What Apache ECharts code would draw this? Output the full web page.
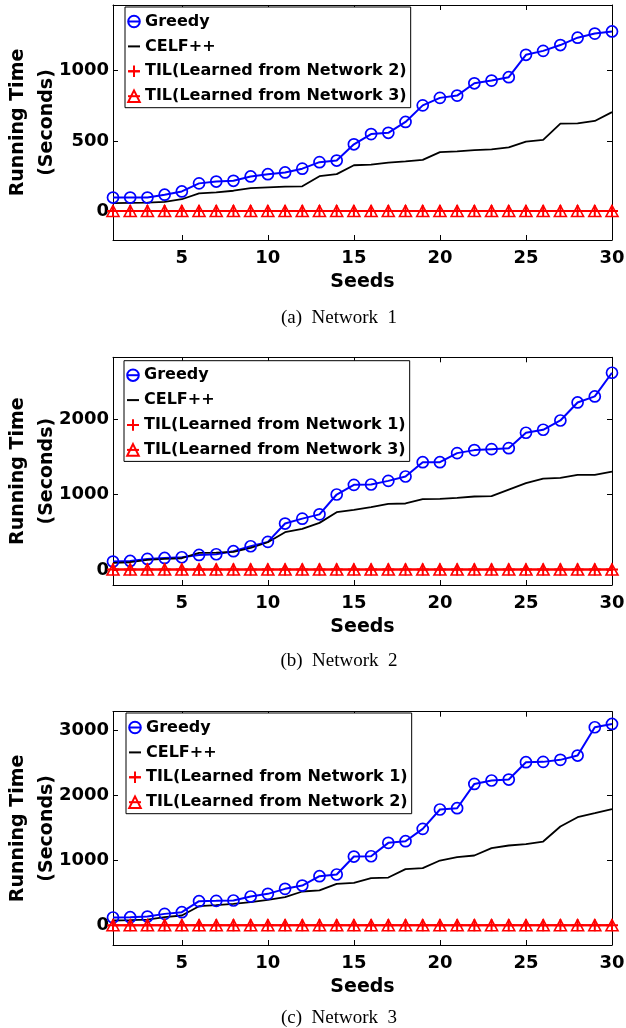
<!DOCTYPE html>
<html>
<head>
<meta charset="utf-8">
<script src="https://cdn.jsdelivr.net/npm/echarts@6/dist/echarts.min.js"></script>
<style>
  html, body { margin: 0; padding: 0; background: #fff; width: 626px; height: 1028px; overflow: hidden; }
  .panel { position: absolute; left: 0; width: 626px; }
</style>
</head>
<body>
<div id="p1" class="panel" style="top:0;height:340px"></div>
<div id="p2" class="panel" style="top:340px;height:350px"></div>
<div id="p3" class="panel" style="top:690px;height:338px"></div>
<script>
// Number of seeds on the horizontal axis
const seeds = [1, 2, 3, 4, 5, 6, 7, 8, 9, 10, 11, 12, 13, 14, 15, 16, 17, 18, 19, 20,
               21, 22, 23, 24, 25, 26, 27, 28, 29, 30];
const xTicks = [5, 10, 15, 20, 25, 30];

// Network 1 running times (seconds)
const greedyNet1 = [100, 100, 100, 120, 143, 200, 213, 218, 249, 265, 277, 304, 350, 361, 476,
                    548, 557, 634, 751, 804, 820, 907, 926, 950, 1108, 1136, 1177, 1229, 1258, 1273];
const celfNet1 = [60, 62, 64, 69, 88, 129, 136, 148, 167, 172, 177, 179, 251, 265, 328,
                  332, 347, 356, 366, 421, 426, 435, 440, 454, 495, 507, 622, 624, 641, 703];
const tilNet1From2 = [5, 5, 5, 5, 5, 5, 5, 5, 5, 5, 5, 5, 5, 5, 5, 5, 5, 5, 5, 5, 5, 5, 5, 5, 5, 5, 5, 5, 5, 5];
const tilNet1From3 = [5, 5, 5, 5, 5, 5, 5, 5, 5, 5, 5, 5, 5, 5, 5, 5, 5, 5, 5, 5, 5, 5, 5, 5, 5, 5, 5, 5, 5, 5];
const yTicksNet1 = [0, 500, 1000];

// Network 2 running times (seconds)
const greedyNet2 = [111, 119, 146, 159, 168, 199, 208, 248, 314, 372, 615, 680, 737, 1000, 1128,
                    1133, 1181, 1239, 1429, 1429, 1549, 1589, 1602, 1615, 1819, 1859, 1982, 2221, 2301, 2615];
const celfNet2 = [93, 102, 133, 146, 155, 226, 230, 239, 292, 367, 500, 544, 624, 766, 797,
                  832, 876, 881, 938, 943, 956, 974, 978, 1066, 1150, 1212, 1221, 1261, 1261, 1305];
const tilNet2From1 = [5, 5, 5, 5, 5, 5, 5, 5, 5, 5, 5, 5, 5, 5, 5, 5, 5, 5, 5, 5, 5, 5, 5, 5, 5, 5, 5, 5, 5, 5];
const tilNet2From3 = [5, 5, 5, 5, 5, 5, 5, 5, 5, 5, 5, 5, 5, 5, 5, 5, 5, 5, 5, 5, 5, 5, 5, 5, 5, 5, 5, 5, 5, 5];
const yTicksNet2 = [0, 1000, 2000];

// Network 3 running times (seconds)
const greedyNet3 = [123, 128, 138, 179, 205, 374, 379, 385, 446, 487, 564, 615, 759, 785, 1061,
                    1066, 1272, 1297, 1487, 1785, 1805, 2179, 2231, 2246, 2513, 2518, 2549, 2615, 3051, 3102];
const celfNet3 = [77, 82, 92, 128, 154, 297, 313, 333, 359, 395, 436, 523, 540, 641, 656,
                  728, 738, 867, 882, 1000, 1051, 1077, 1190, 1231, 1251, 1292, 1523, 1667, 1728, 1790];
const tilNet3From1 = [5, 5, 5, 5, 5, 5, 5, 5, 5, 5, 5, 5, 5, 5, 5, 5, 5, 5, 5, 5, 5, 5, 5, 5, 5, 5, 5, 5, 5, 5];
const tilNet3From2 = [5, 5, 5, 5, 5, 5, 5, 5, 5, 5, 5, 5, 5, 5, 5, 5, 5, 5, 5, 5, 5, 5, 5, 5, 5, 5, 5, 5, 5, 5];
const yTicksNet3 = [0, 1000, 2000, 3000];

const FONT = 'DejaVu Sans';
const BLUE = '#0000ff';
const RED = '#ff0000';
const PLUS = 'path://M0,5L10,5M5,0L5,10';
const CLEAR = 'rgba(0,0,0,0)';

function pairs(values) {
  return seeds.map((s, i) => [s, values[i]]);
}

function boldText(size, extra) {
  return Object.assign({ fontFamily: FONT, fontWeight: 'bold', fontSize: size, color: '#000' }, extra || {});
}

function plainNumber(v) {
  return String(v);
}

function buildOption(p) {
  const frameLine = { show: true, onZero: false, lineStyle: { color: '#000', width: 1 } };
  const xTick = { show: true, inside: true, length: 5, customValues: xTicks, lineStyle: { color: '#000', width: 1 } };
  const yTick = { show: true, inside: true, length: 5, customValues: p.yTicks, lineStyle: { color: '#000', width: 1 } };
  return {
    animation: false,
    grid: {
      left: 113, top: p.gridTop, width: 499, height: p.gridHeight,
      show: false, containLabel: false, outerBoundsMode: 'none'
    },
    legend: {
      orient: 'vertical',
      left: p.legendLeft,
      top: p.legendTop,
      padding: [6, 4, 3, 2],
      itemGap: 7.9,
      itemWidth: 12,
      itemHeight: 14.5,
      backgroundColor: '#fff',
      borderColor: '#000',
      borderWidth: 1,
      borderRadius: 0,
      selectedMode: false,
      textStyle: boldText(16, { lineHeight: 17 }),
      data: [
        { name: 'Greedy' },
        { name: 'CELF++', icon: 'path://M0,0H12V2H0Z' },
        { name: p.tilNames[0] },
        { name: p.tilNames[1] }
      ]
    },
    xAxis: [
      {
        type: 'value', min: 1, max: 30, position: 'bottom',
        name: 'Seeds', nameLocation: 'middle', nameGap: 33, nameMoveOverlap: false,
        nameTextStyle: boldText(19),
        axisLine: frameLine, axisTick: xTick,
        axisLabel: Object.assign({ customValues: xTicks, margin: 9, formatter: plainNumber }, boldText(18)),
        splitLine: { show: false }
      },
      {
        type: 'value', min: 1, max: 30, position: 'top',
        axisLine: frameLine, axisTick: xTick,
        axisLabel: { show: false }, splitLine: { show: false }
      }
    ],
    yAxis: [
      {
        type: 'value', min: p.yMin, max: p.yMax, position: 'left',
        name: 'Running Time\n(Seconds)', nameLocation: 'middle', nameGap: 51, nameRotate: 90,
        nameMoveOverlap: false,
        nameTextStyle: boldText(19, { lineHeight: 29 }),
        axisLine: frameLine, axisTick: yTick,
        axisLabel: Object.assign({ customValues: p.yTicks, margin: 4, formatter: plainNumber }, boldText(18)),
        splitLine: { show: false }
      },
      {
        type: 'value', min: p.yMin, max: p.yMax, position: 'right',
        axisLine: frameLine, axisTick: yTick,
        axisLabel: { show: false }, splitLine: { show: false }
      }
    ],
    series: [
      {
        name: 'Greedy', type: 'line', data: pairs(p.greedy), clip: false,
        symbol: 'circle', symbolSize: 11,
        lineStyle: { color: BLUE, width: 2 },
        itemStyle: { color: CLEAR, borderColor: BLUE, borderWidth: 1.7 },
        emphasis: { disabled: true }
      },
      {
        name: 'CELF++', type: 'line', data: pairs(p.celf), clip: false,
        symbol: 'none', showSymbol: false,
        lineStyle: { color: '#000', width: 1.8 },
        itemStyle: { color: '#000' },
        emphasis: { disabled: true }
      },
      {
        name: p.tilNames[0], type: 'line', data: pairs(p.tilA), clip: false,
        symbol: PLUS, symbolSize: 12,
        lineStyle: { color: RED, width: 2 },
        itemStyle: { color: RED, borderColor: RED, borderWidth: 2 },
        emphasis: { disabled: true }
      },
      {
        name: p.tilNames[1], type: 'line', data: pairs(p.tilB), clip: false,
        symbol: 'triangle', symbolSize: [12, 11],
        lineStyle: { color: RED, width: 2 },
        itemStyle: { color: CLEAR, borderColor: RED, borderWidth: 1.6 },
        emphasis: { disabled: true }
      }
    ],
    graphic: [{
      type: 'text', x: 339, y: p.captionY,
      style: {
        text: p.caption, fontFamily: 'Liberation Serif', fontSize: 19, fill: '#000',
        align: 'center', verticalAlign: 'middle'
      }
    }]
  };
}

const panels = [
  {
    el: 'p1', gridTop: 5, gridHeight: 235, yMin: -200, yMax: 1460, yTicks: yTicksNet1,
    legendLeft: 125, legendTop: 7,
    greedy: greedyNet1, celf: celfNet1, tilA: tilNet1From2, tilB: tilNet1From3,
    tilNames: ['TIL(Learned from Network 2)', 'TIL(Learned from Network 3)'],
    caption: '(a)  Network  1', captionY: 318
  },
  {
    el: 'p2', gridTop: 17.3, gridHeight: 227.7, yMin: -200, yMax: 2820, yTicks: yTicksNet2,
    legendLeft: 124, legendTop: 20.7,
    greedy: greedyNet2, celf: celfNet2, tilA: tilNet2From1, tilB: tilNet2From3,
    tilNames: ['TIL(Learned from Network 1)', 'TIL(Learned from Network 3)'],
    caption: '(b)  Network  2', captionY: 321
  },
  {
    el: 'p3', gridTop: 21.7, gridHeight: 233.3, yMin: -300, yMax: 3290, yTicks: yTicksNet3,
    legendLeft: 126, legendTop: 23,
    greedy: greedyNet3, celf: celfNet3, tilA: tilNet3From1, tilB: tilNet3From2,
    tilNames: ['TIL(Learned from Network 1)', 'TIL(Learned from Network 2)'],
    caption: '(c)  Network  3', captionY: 328
  }
];

panels.forEach(p => {
  const chart = echarts.init(document.getElementById(p.el), null, { renderer: 'canvas' });
  chart.setOption(buildOption(p));
});
</script>
</body>
</html>
